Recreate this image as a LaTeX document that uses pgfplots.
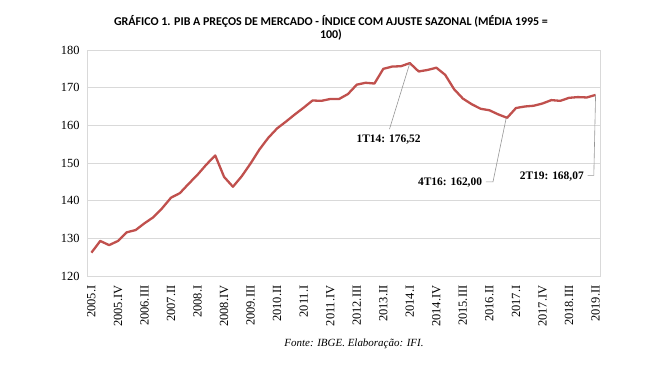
\documentclass[border=0pt]{standalone}
\usepackage{pgfplots}
\pgfplotsset{compat=1.18}
\usepackage{fontspec}
\setmainfont{Liberation Serif}
\newfontfamily\titlefont{Carlito}
\definecolor{serie}{RGB}{192,80,77}
\definecolor{gridc}{RGB}{217,217,217}
\definecolor{annc}{RGB}{150,150,150}
\begin{document}
\begin{tikzpicture}[x=1bp,y=1bp]
\useasboundingbox (0,0) rectangle (663,375);
\node[align=center,font=\titlefont\bfseries\fontsize{12}{13.5}\selectfont] at (331,347)
  {GRÁFICO 1. PIB A PREÇOS DE MERCADO - ÍNDICE COM AJUSTE SAZONAL (MÉDIA 1995 =\\100)};
\node[font=\itshape\fontsize{11}{13}\selectfont] at (354,31) {Fonte: IBGE. Elaboração: IFI.};
\begin{axis}[
  at={(87bp,99bp)}, anchor=south west,
  scale only axis, width=513bp, height=226bp,
  xmin=-0.5, xmax=57.5, ymin=120, ymax=180,
  ytick={120,130,...,180},
  xtick={0,3,...,57},
  xticklabels={2005.I,2005.IV,2006.III,2007.II,2008.I,2008.IV,2009.III,2010.II,2011.I,2011.IV,2012.III,2013.II,2014.I,2014.IV,2015.III,2016.II,2017.I,2017.IV,2018.III,2019.II},
  x tick label style={rotate=90,anchor=east,font=\fontsize{12.5}{14}\selectfont},
  xticklabel shift=6bp,
  y tick label style={font=\fontsize{12.5}{14}\selectfont},
  yticklabel shift=4bp,
  /pgf/number format/assume math mode=true,
  major tick length=0pt,
  ymajorgrids, grid style={gridc,line width=0.6bp},
  axis line style={gridc,line width=0.8bp},
  clip=false,
]
\addplot[serie, line width=2.3bp, line join=round, no marks] table {
x y
0 126.2
1 129.3
2 128.2
3 129.3
4 131.6
5 132.2
6 134.0
7 135.6
8 138.0
9 140.8
10 142.0
11 144.5
12 146.9
13 149.6
14 152.0
15 146.3
16 143.7
17 146.5
18 149.9
19 153.6
20 156.7
21 159.2
22 161.0
23 162.9
24 164.7
25 166.6
26 166.5
27 167.0
28 167.0
29 168.3
30 170.8
31 171.3
32 171.1
33 175.0
34 175.6
35 175.7
36 176.52
37 174.3
38 174.7
39 175.3
40 173.4
41 169.6
42 167.1
43 165.6
44 164.4
45 164.0
46 162.9
47 162.00
48 164.6
49 165.0
50 165.2
51 165.8
52 166.7
53 166.5
54 167.3
55 167.5
56 167.4
57 168.07
};
\draw[annc, line width=0.6bp] (axis cs:36,176.52) -- (axis cs:33.7,159.0);
\node[font=\bfseries\fontsize{11.5}{13}\selectfont] at (axis cs:33.6,156.1) {1T14: 176,52};
\draw[annc, line width=0.6bp] (axis cs:46.9,162.0) -- (axis cs:45.4,145.0) -- (axis cs:44.6,145.0);
\node[anchor=east,font=\bfseries\fontsize{11.5}{13}\selectfont,inner sep=1bp] at (axis cs:44.3,144.8) {4T16: 162,00};
\draw[annc, line width=0.6bp] (axis cs:57,168.07) -- (axis cs:56.8,146.7) -- (axis cs:56.1,146.7);
\node[anchor=east,font=\bfseries\fontsize{11.5}{13}\selectfont,inner sep=1bp] at (axis cs:55.8,146.5) {2T19: 168,07};
\end{axis}
\end{tikzpicture}
\end{document}
